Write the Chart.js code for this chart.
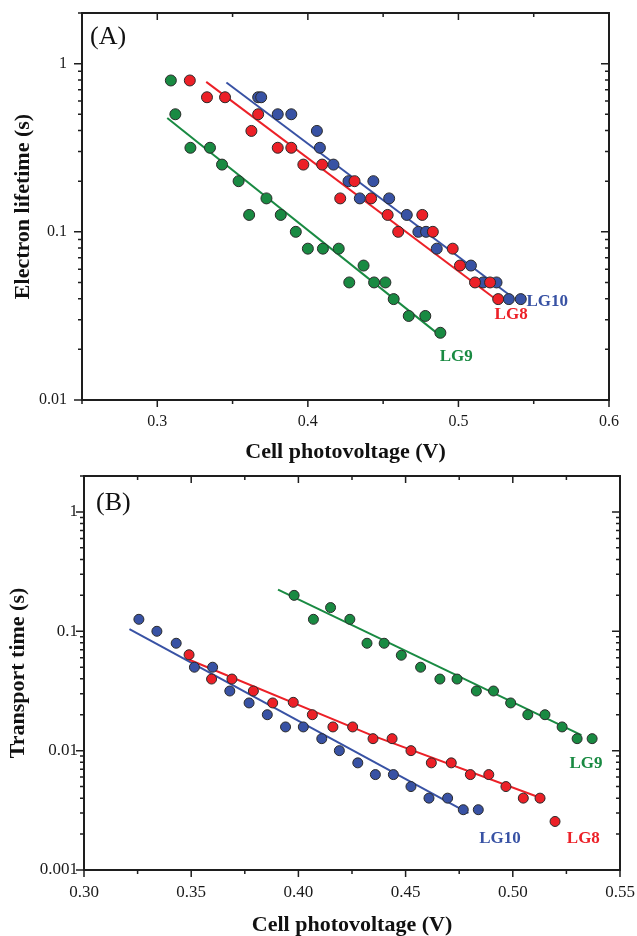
<!DOCTYPE html>
<html>
<head>
<meta charset="utf-8">
<script src="https://cdn.jsdelivr.net/npm/chart.js@4.4.1/dist/chart.umd.min.js"></script>
<style>
  html, body { margin: 0; padding: 0; background: #fff; overflow: hidden; }
  #wrap { position: relative; width: 637px; height: 936px; overflow: hidden; }
  canvas { position: absolute; left: 0; }
  #chartA { top: 0; }
  #chartB { top: 468px; }
</style>
</head>
<body>
<div id="wrap">
  <canvas id="chartA" width="637" height="468"></canvas>
  <canvas id="chartB" width="637" height="480"></canvas>
</div>
<script>
// ---------- panel (A): electron lifetime ----------
const lg8A_V   = [0.3216, 0.333, 0.345, 0.3625, 0.367, 0.380, 0.389, 0.397, 0.4095, 0.4215, 0.431, 0.442, 0.453, 0.460, 0.476, 0.483, 0.4962, 0.501, 0.511, 0.521, 0.5264];
const lg8A_tau = [0.794, 0.631, 0.631, 0.398, 0.50, 0.316, 0.316, 0.251, 0.251, 0.158, 0.20, 0.158, 0.126, 0.10, 0.126, 0.10, 0.0794, 0.063, 0.050, 0.050, 0.0398];
const lg9A_V   = [0.309, 0.312, 0.322, 0.335, 0.343, 0.354, 0.361, 0.3725, 0.382, 0.392, 0.400, 0.410, 0.4205, 0.4275, 0.437, 0.444, 0.4515, 0.457, 0.467, 0.478, 0.488];
const lg9A_tau = [0.794, 0.50, 0.316, 0.316, 0.251, 0.20, 0.126, 0.158, 0.126, 0.10, 0.0794, 0.0794, 0.0794, 0.050, 0.063, 0.050, 0.050, 0.0398, 0.0316, 0.0316, 0.0251];
const lg10A_V   = [0.367, 0.369, 0.380, 0.389, 0.406, 0.408, 0.417, 0.427, 0.4345, 0.4435, 0.454, 0.4657, 0.4734, 0.4785, 0.4856, 0.5083, 0.5164, 0.5253, 0.5335, 0.5414];
const lg10A_tau = [0.631, 0.631, 0.50, 0.50, 0.398, 0.316, 0.251, 0.20, 0.158, 0.20, 0.158, 0.126, 0.10, 0.10, 0.0794, 0.063, 0.050, 0.050, 0.0398, 0.0398];
// fitted lines (end points)
const fit8A_V = [0.3325, 0.5257],  fit8A_tau = [0.779, 0.0392];
const fit9A_V = [0.3066, 0.486],   fit9A_tau = [0.4746, 0.0249];
const fit10A_V = [0.3459, 0.5341], fit10A_tau = [0.772, 0.042];
const xTicksA = [0.3, 0.4, 0.5, 0.6], xLabelsA = ['0.3', '0.4', '0.5', '0.6'];
const xMinorA = [0.25, 0.35, 0.45, 0.55];
const yTicksA = [0.01, 0.1, 1], yLabelsA = ['0.01', '0.1', '1'];
const tagTextA = ['LG10', 'LG8', 'LG9'], tagXA = [0.559, 0.535, 0.4985], tagYA = [0.0382, 0.0324, 0.018];

// ---------- panel (B): transport time ----------
const lg8B_V   = [0.349, 0.3595, 0.369, 0.379, 0.3976, 0.388, 0.4065, 0.4161, 0.4253, 0.4348, 0.4437, 0.4525, 0.462, 0.4713, 0.4802, 0.4888, 0.4968, 0.5049, 0.5127, 0.5197];
const lg8B_tt  = [0.0636, 0.0398, 0.0398, 0.0316, 0.0254, 0.0251, 0.020, 0.0158, 0.0158, 0.0126, 0.0126, 0.010, 0.0079, 0.0079, 0.0063, 0.0063, 0.0050, 0.0040, 0.0040, 0.00255];
const lg9B_V   = [0.398, 0.407, 0.415, 0.424, 0.432, 0.440, 0.448, 0.457, 0.466, 0.474, 0.483, 0.491, 0.499, 0.507, 0.515, 0.523, 0.530, 0.537];
const lg9B_tt  = [0.20, 0.126, 0.158, 0.126, 0.0794, 0.0794, 0.063, 0.050, 0.0398, 0.0398, 0.0316, 0.0316, 0.0251, 0.020, 0.020, 0.0158, 0.0126, 0.0126];
const lg10B_V  = [0.3256, 0.334, 0.343, 0.3515, 0.360, 0.368, 0.377, 0.3855, 0.394, 0.4023, 0.4109, 0.4191, 0.4277, 0.4359, 0.4443, 0.4525, 0.4609, 0.4696, 0.4769, 0.4839];
const lg10B_tt = [0.126, 0.10, 0.0794, 0.050, 0.050, 0.0316, 0.0251, 0.020, 0.0158, 0.0158, 0.0126, 0.010, 0.0079, 0.0063, 0.0063, 0.0050, 0.0040, 0.0040, 0.0032, 0.0032];
const fit8B_V = [0.3491, 0.434, 0.515], fit8B_tt = [0.0578, 0.0135, 0.0039];
const fit9B_V = [0.3905, 0.532],        fit9B_tt = [0.223, 0.0135];
const fit10B_V = [0.3212, 0.4793],      fit10B_tt = [0.1045, 0.0030];
const xTicksB = [0.30, 0.35, 0.40, 0.45, 0.50, 0.55], xLabelsB = ['0.30', '0.35', '0.40', '0.45', '0.50', '0.55'];
const xMinorB = [0.325, 0.375, 0.425, 0.475, 0.525];
const yTicksB = [0.001, 0.01, 0.1, 1], yLabelsB = ['0.001', '0.01', '0.1', '1'];
const tagTextB = ['LG9', 'LG10', 'LG8'], tagXB = [0.5341, 0.494, 0.5329], tagYB = [0.00777, 0.00185, 0.00185];

const GREEN = '#198a42', RED = '#ec2027', BLUE = '#3852a4';
const SERIF = '"Liberation Serif", "Times New Roman", serif';

const pts = (xs, ys) => xs.map((v, i) => ({ x: v, y: ys[i] }));

function dots(data, color, r) {
  return { data, backgroundColor: color, borderColor: '#2a2a2a', borderWidth: 1,
           pointRadius: r, pointHoverRadius: r, order: 1 };
}
function fitLine(data, color) {
  return { data, showLine: true, borderColor: color, borderWidth: 2, pointRadius: 0,
           fill: false, order: 2 };
}

// frame, ticks on all four sides, series tags and the panel letter
const frameTicks = {
  id: 'frameTicks',
  afterDraw(chart, args, o) {
    const { ctx, chartArea: a } = chart;
    const xs = chart.scales.x, ys = chart.scales.y;
    ctx.save();
    ctx.strokeStyle = '#1e1e1e';
    ctx.lineWidth = 2;
    ctx.strokeRect(a.left, a.top, a.right - a.left, a.bottom - a.top);
    ctx.lineWidth = 1.5;
    ctx.beginPath();
    const xt = (vals, len) => vals.forEach(v => {
      const px = xs.getPixelForValue(v);
      ctx.moveTo(px, a.bottom); ctx.lineTo(px, a.bottom + len);
      ctx.moveTo(px, a.top); ctx.lineTo(px, a.top + len);
    });
    xt(o.xMajor, 7);
    xt(o.xMinor, 4);
    for (let e = Math.floor(Math.log10(ys.min)); e <= Math.ceil(Math.log10(ys.max)); e++) {
      for (let k = 1; k <= 9; k++) {
        const v = k * Math.pow(10, e);
        if (v < ys.min * 0.999 || v > ys.max * 1.001) continue;
        const py = ys.getPixelForValue(v), len = k === 1 ? 8 : 4;
        ctx.moveTo(a.left, py); ctx.lineTo(a.left - len, py);
        ctx.moveTo(a.right, py); ctx.lineTo(a.right - len, py);
      }
    }
    ctx.stroke();

    ctx.font = 'bold 17px ' + SERIF;
    ctx.textAlign = 'center';
    ctx.textBaseline = 'middle';
    o.tags.text.forEach((t, i) => {
      ctx.fillStyle = o.tags.color[i];
      ctx.fillText(t, xs.getPixelForValue(o.tags.x[i]), ys.getPixelForValue(o.tags.y[i]));
    });

    ctx.fillStyle = '#111';
    ctx.font = '26px ' + SERIF;
    ctx.textAlign = 'left';
    ctx.fillText(o.panel, a.left + o.panelDx, a.top + o.panelDy);
    ctx.restore();
  }
};

function makeChart(id, cfg) {
  return new Chart(document.getElementById(id), {
    type: 'scatter',
    data: { datasets: cfg.datasets },
    options: {
      responsive: false,
      animation: false,
      layout: { padding: cfg.padding },
      plugins: { legend: { display: false }, tooltip: { enabled: false }, frameTicks: cfg.frame },
      scales: {
        x: {
          type: 'linear', min: cfg.xMin, max: cfg.xMax,
          grid: { display: false, drawTicks: false }, border: { display: false },
          afterBuildTicks: s => { s.ticks = cfg.xTicks.map(v => ({ value: v })); },
          afterFit: s => { s.height = cfg.xHeight; s.paddingLeft = 0; s.paddingRight = 0; },
          ticks: { autoSkip: false, maxRotation: 0, padding: cfg.xPad, color: '#1a1a1a',
                   font: { family: SERIF, size: cfg.tickSize },
                   callback: (v, i) => cfg.xLabels[i] },
          title: { display: true, text: 'Cell photovoltage (V)', color: '#111',
                   font: { family: SERIF, size: 22, weight: 'bold' },
                   padding: { top: 0, bottom: cfg.xTitlePad } }
        },
        y: {
          type: 'logarithmic', min: cfg.yMin, max: cfg.yMax,
          grid: { display: false, drawTicks: false }, border: { display: false },
          afterBuildTicks: s => { s.ticks = cfg.yTicks.map(v => ({ value: v })); },
          afterFit: s => { s.width = cfg.yWidth; s.paddingTop = 0; s.paddingBottom = 0; },
          ticks: { autoSkip: false, padding: cfg.yPad, color: '#1a1a1a',
                   font: { family: SERIF, size: cfg.tickSize },
                   callback: (v, i) => cfg.yLabels[i] },
          title: { display: true, text: cfg.yTitle, color: '#111',
                   font: { family: SERIF, size: 22, weight: 'bold' },
                   padding: { top: cfg.yTitlePad, bottom: 0 } }
        }
      }
    },
    plugins: [frameTicks]
  });
}

makeChart('chartA', {
  datasets: [
    fitLine(pts(fit9A_V, fit9A_tau), GREEN),
    fitLine(pts(fit8A_V, fit8A_tau), RED),
    fitLine(pts(fit10A_V, fit10A_tau), BLUE),
    dots(pts(lg9A_V, lg9A_tau), GREEN, 5.5),
    dots(pts(lg8A_V, lg8A_tau), RED, 5.5),
    dots(pts(lg10A_V, lg10A_tau), BLUE, 5.5)
  ],
  padding: { top: 13, right: 28, left: 0, bottom: 0 },
  xMin: 0.25, xMax: 0.6, yMin: 0.01, yMax: 2,
  xTicks: xTicksA, xLabels: xLabelsA, yTicks: yTicksA, yLabels: yLabelsA,
  xHeight: 68, yWidth: 82, xPad: 12, yPad: 15, tickSize: 16,
  xTitlePad: 2, yTitlePad: 10, yTitle: 'Electron lifetime (s)',
  frame: { xMajor: xTicksA, xMinor: xMinorA, panel: '(A)', panelDx: 8, panelDy: 24,
           tags: { text: tagTextA, x: tagXA, y: tagYA, color: [BLUE, RED, GREEN] } }
});

makeChart('chartB', {
  datasets: [
    fitLine(pts(fit9B_V, fit9B_tt), GREEN),
    fitLine(pts(fit8B_V, fit8B_tt), RED),
    fitLine(pts(fit10B_V, fit10B_tt), BLUE),
    dots(pts(lg9B_V, lg9B_tt), GREEN, 5),
    dots(pts(lg8B_V, lg8B_tt), RED, 5),
    dots(pts(lg10B_V, lg10B_tt), BLUE, 5)
  ],
  padding: { top: 8, right: 17, left: 0, bottom: 0 },
  xMin: 0.30, xMax: 0.55, yMin: 0.001, yMax: 2,
  xTicks: xTicksB, xLabels: xLabelsB, yTicks: yTicksB, yLabels: yLabelsB,
  xHeight: 78, yWidth: 84, xPad: 12, yPad: 6, tickSize: 17,
  xTitlePad: 9, yTitlePad: 5, yTitle: 'Transport time (s)',
  frame: { xMajor: xTicksB, xMinor: xMinorB, panel: '(B)', panelDx: 12, panelDy: 27,
           tags: { text: tagTextB, x: tagXB, y: tagYB, color: [GREEN, BLUE, RED] } }
});
</script>
</body>
</html>
